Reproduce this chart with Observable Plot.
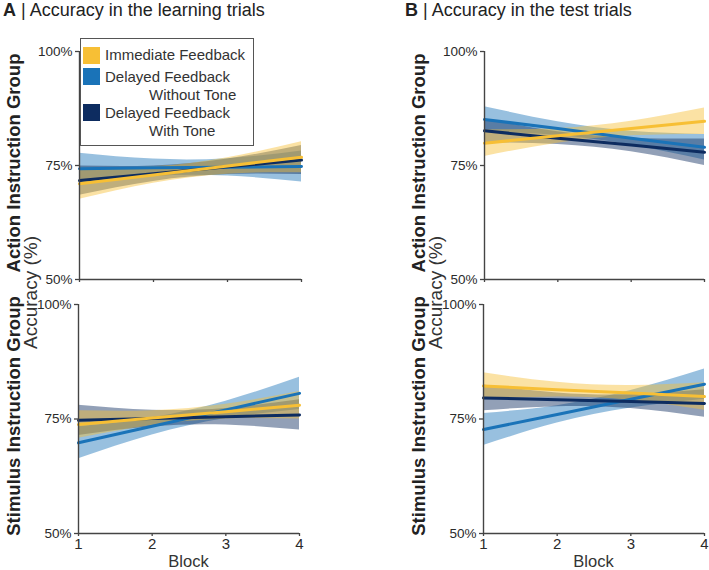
<!DOCTYPE html>
<html>
<head>
<meta charset="utf-8">
<script src="https://cdn.jsdelivr.net/npm/d3@7"></script>
<script src="https://cdn.jsdelivr.net/npm/@observablehq/plot@0.6"></script>
<style>
  html, body { margin: 0; padding: 0; background: #fff; }
  #fig { position: relative; width: 709px; height: 570px; overflow: hidden;
         font-family: "Liberation Sans", Arial, sans-serif; }
  #fig svg { position: absolute; }
</style>
</head>
<body>
<div id="fig"></div>
<script>
// Blocks on the x axis and the three feedback conditions
const blocks = [1, 2, 3, 4];
const conditions = ["Immediate Feedback", "Delayed Feedback Without Tone", "Delayed Feedback With Tone"];
const yTicks = [50, 75, 100];

// Fitted accuracy (%) per block, one row per condition, with lower/upper confidence limits
// Learning trials, action instruction group
const learnActionFit  = [[71.0, 72.9, 74.9, 76.8], [74.3, 74.5, 74.6, 74.8], [71.7, 73.2, 74.7, 76.2]];
const learnActionLow  = [[67.6, 71.1, 73.1, 73.4], [70.9, 72.6, 72.7, 71.4], [68.5, 71.5, 73.0, 73.0]];
const learnActionHigh = [[74.4, 74.7, 76.7, 80.2], [77.7, 76.4, 76.5, 78.2], [74.9, 74.9, 76.4, 79.4]];

// Test trials, action instruction group
const testActionFit  = [[79.9, 81.5, 83.1, 84.7], [85.1, 83.1, 81.0, 79.0], [82.6, 81.0, 79.5, 77.9]];
const testActionLow  = [[77.0, 79.9, 81.5, 81.8], [82.3, 81.6, 79.5, 76.2], [80.0, 79.6, 78.0, 75.0]];
const testActionHigh = [[82.8, 83.1, 84.7, 87.6], [87.9, 84.6, 82.5, 81.8], [85.2, 82.4, 81.0, 80.8]];

// Learning trials, stimulus instruction group
const learnStimulusFit  = [[73.8, 75.2, 76.6, 78.0], [69.8, 73.4, 77.0, 80.6], [74.7, 75.1, 75.5, 75.9]];
const learnStimulusLow  = [[70.8, 73.6, 75.0, 75.0], [66.3, 71.5, 75.1, 77.1], [71.4, 73.3, 73.7, 72.6]];
const learnStimulusHigh = [[76.8, 76.8, 78.2, 81.0], [73.3, 75.3, 78.9, 84.1], [78.0, 76.9, 77.3, 79.2]];

// Test trials, stimulus instruction group
const testStimulusFit  = [[82.2, 81.4, 80.7, 79.9], [72.7, 76.0, 79.3, 82.6], [79.6, 79.2, 78.8, 78.4]];
const testStimulusLow  = [[79.3, 79.8, 79.1, 76.9], [69.2, 74.1, 77.4, 79.3], [76.8, 77.7, 77.3, 75.4]];
const testStimulusHigh = [[85.1, 83.0, 82.3, 82.9], [76.2, 77.9, 81.2, 85.9], [82.4, 80.7, 80.3, 81.4]];

const lineColors = ["#f7bf35", "#1a73b8", "#0d2c60"];
const drawOrder = [1, 2, 0];
const axisColor = "#444";
const fig = document.getElementById("fig");

function panel({fit, low, high, showXLabels, left, top, width, height, marginLeft, marginRight, marginTop, marginBottom}) {
  const rows = [];
  for (const i of drawOrder) {
    blocks.forEach((b, j) => rows.push({block: b, cond: conditions[i], fit: fit[i][j], low: low[i][j], high: high[i][j]}));
  }
  const svg = Plot.plot({
    width, height, marginLeft, marginRight, marginTop, marginBottom,
    x: {domain: [1, 4]},
    y: {domain: [50, 100]},
    color: {domain: conditions, range: lineColors},
    style: {fontFamily: '"Liberation Sans", Arial, sans-serif', fontSize: "13.5px", color: "#2a2a2a",
            background: "none", overflow: "visible"},
    marks: [
      Plot.areaY(rows, {x: "block", y1: "low", y2: "high", z: "cond", fill: "cond", fillOpacity: 0.45, curve: "natural"}),
      Plot.line(rows, {x: "block", y: "fit", z: "cond", stroke: "cond", strokeWidth: 3}),
      Plot.ruleX([1], {y1: 50, y2: 100, stroke: axisColor, strokeWidth: 1.4}),
      Plot.ruleY([50], {x1: 1, x2: 4, stroke: axisColor, strokeWidth: 1.4}),
      Plot.axisY({ticks: yTicks, tickFormat: d => d + "%", tickSize: 4, tickPadding: 3, fontSize: "13.5px",
                  label: null, stroke: axisColor, strokeWidth: 1.3}),
      Plot.axisX({ticks: blocks, tickSize: 3, tickPadding: 2, fontSize: "15px", label: null, stroke: axisColor,
                  strokeWidth: 1.3, tickFormat: showXLabels ? d => String(d) : () => ""})
    ]
  });
  svg.style.left = left + "px";
  svg.style.top = top + "px";
  fig.appendChild(svg);
}

panel({fit: learnActionFit, low: learnActionLow, high: learnActionHigh, showXLabels: false,
       left: 0, top: 40, width: 310, height: 250, marginLeft: 79, marginRight: 9, marginTop: 11, marginBottom: 11});
panel({fit: testActionFit, low: testActionLow, high: testActionHigh, showXLabels: false,
       left: 400, top: 40, width: 309, height: 250, marginLeft: 84, marginRight: 5, marginTop: 11, marginBottom: 11});
panel({fit: learnStimulusFit, low: learnStimulusLow, high: learnStimulusHigh, showXLabels: true,
       left: 0, top: 295, width: 310, height: 275, marginLeft: 78, marginRight: 11, marginTop: 9, marginBottom: 37});
panel({fit: testStimulusFit, low: testStimulusLow, high: testStimulusHigh, showXLabels: true,
       left: 400, top: 295, width: 309, height: 275, marginLeft: 83, marginRight: 5, marginTop: 9, marginBottom: 37});

// Titles, row labels, axis titles and legend on a text layer above the panels
const layer = d3.select(fig).append("svg")
  .attr("width", 709).attr("height", 570)
  .style("left", "0px").style("top", "0px")
  .style("font-family", '"Liberation Sans", Arial, sans-serif');

const titles = [
  {x: 3, letter: "A", text: " | Accuracy in the learning trials"},
  {x: 405, letter: "B", text: " | Accuracy in the test trials"}
];
for (const t of titles) {
  const el = layer.append("text").attr("x", t.x).attr("y", 16).attr("font-size", 18).attr("fill", "#222");
  el.append("tspan").attr("font-weight", "bold").text(t.letter);
  el.append("tspan").text(t.text);
}

const rowLabels = [
  {x: 19.5, y: 163, text: "Action Instruction Group"},
  {x: 19.5, y: 416, text: "Stimulus Instruction Group"},
  {x: 425, y: 163, text: "Action Instruction Group"},
  {x: 425, y: 416, text: "Stimulus Instruction Group"}
];
for (const r of rowLabels) {
  layer.append("text").attr("transform", `translate(${r.x},${r.y}) rotate(-90)`)
    .attr("text-anchor", "middle").attr("font-size", 18.5).attr("font-weight", "bold").attr("fill", "#222")
    .text(r.text);
}

for (const x of [37, 442]) {
  layer.append("text").attr("transform", `translate(${x},292.5) rotate(-90)`)
    .attr("text-anchor", "middle").attr("font-size", 19).attr("fill", "#333")
    .text("Accuracy (%)");
}

for (const x of [188.5, 593.5]) {
  layer.append("text").attr("x", x).attr("y", 567).attr("text-anchor", "middle")
    .attr("font-size", 16.5).attr("fill", "#333").text("Block");
}

// Legend
const legend = layer.append("g");
legend.append("rect").attr("x", 80.5).attr("y", 38.5).attr("width", 173).attr("height", 107)
  .attr("fill", "#fff").attr("stroke", "#555").attr("stroke-width", 1);
const legendItems = [
  {color: lineColors[0], sy: 47, lines: [["Immediate Feedback", 105, 60]]},
  {color: lineColors[1], sy: 68, lines: [["Delayed Feedback", 105, 82], ["Without Tone", 149, 100]]},
  {color: lineColors[2], sy: 104, lines: [["Delayed Feedback", 105, 118], ["With Tone", 149, 136]]}
];
for (const item of legendItems) {
  legend.append("rect").attr("x", 83).attr("y", item.sy).attr("width", 17).attr("height", 17).attr("fill", item.color);
  for (const [txt, x, y] of item.lines) {
    legend.append("text").attr("x", x).attr("y", y).attr("font-size", 15).attr("fill", "#333").text(txt);
  }
}
</script>
</body>
</html>
